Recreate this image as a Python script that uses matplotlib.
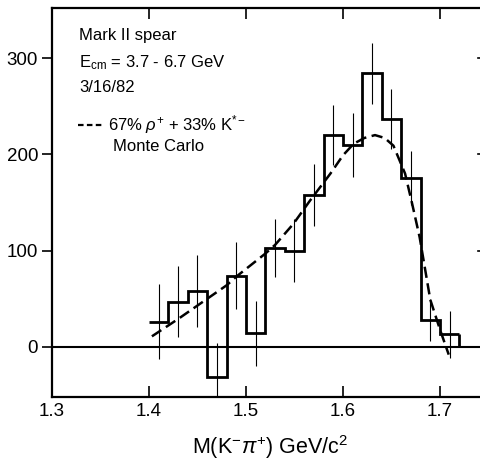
import numpy as np
import matplotlib.pyplot as plt

plt.rcParams['font.family'] = ['Liberation Sans', 'DejaVu Sans']
plt.rcParams['mathtext.fontset'] = 'custom'
plt.rcParams['mathtext.rm'] = 'Liberation Sans'
plt.rcParams['mathtext.it'] = 'Liberation Sans:italic'

# histogram bins (GeV/c^2) and entries
edges = [1.40, 1.42, 1.44, 1.46, 1.48, 1.50, 1.52, 1.54, 1.56,
         1.58, 1.60, 1.62, 1.64, 1.66, 1.68, 1.70, 1.72]
counts = [26, 47, 58, -31, 74, 14, 103, 100, 158,
          220, 210, 284, 237, 175, 28, 13]
errors = [39, 37, 37, 35, 35, 34, 30, 33, 32,
          31, 33, 32, 31, 28, 22, 24]

# Monte Carlo curve
mc_x = [1.403, 1.43, 1.45, 1.46, 1.48, 1.49, 1.52, 1.53, 1.549, 1.566,
        1.587, 1.60, 1.611, 1.622, 1.633, 1.643, 1.652, 1.664, 1.671,
        1.679, 1.69, 1.70, 1.709]
mc_y = [11, 29, 43, 50, 64, 73, 97, 106, 128, 152,
        180, 199, 211, 217, 220, 217, 209, 180, 150,
        114, 49, 18, -8]

xticks = [1.3, 1.4, 1.5, 1.6, 1.7]
yticks = [0, 100, 200, 300]

fig = plt.figure(figsize=(4.81, 4.65), dpi=100)
ax = fig.add_axes([52/481, 68/465, 436.5/481, 389/465])

centers = [(a + b) / 2 for a, b in zip(edges[:-1], edges[1:])]

ax.axhline(0, color='black', lw=1.5)
ax.stairs(counts, edges, baseline=None, color='black', lw=2)
ax.vlines(edges[-1], 0, counts[-1], color='black', lw=2)
ax.errorbar(centers, counts, yerr=errors, fmt='none', ecolor='black',
            elinewidth=0.8, capsize=0)
ax.plot(mc_x, mc_y, color='black', lw=1.8, linestyle=(0, (4.5, 2.2)))

ax.set_xlim(1.3, 1.75)
ax.set_ylim(-52, 352)
ax.set_xticks(xticks)
ax.set_xticklabels([str(t) for t in xticks])
ax.set_yticks(yticks)

ax.tick_params(axis='x', direction='in', top=True, length=8, width=1.2,
               labelsize=13.5, pad=4)
ax.tick_params(axis='y', direction='out', left=True, length=7, width=1.2,
               labelsize=13.5, pad=3)
for s in ax.spines.values():
    s.set_linewidth(1.6)
ax.spines['right'].set_visible(False)
# inward ticks on the right side (right spine falls outside the image)
for t in [100, 200, 300]:
    ax.plot([0.977, 1.0], [t, t], transform=ax.get_yaxis_transform(),
            color='black', lw=1.2, clip_on=False)

ax.set_xlabel(r'M(K$^{-}\pi^{+}$) GeV/c$^{2}$', fontsize=15.5, labelpad=10)

tx = dict(transform=ax.transAxes, fontsize=12, va='baseline', ha='left')
ax.text(0.062, 0.918, 'Mark II spear', **tx)
ax.text(0.062, 0.848, r'E$_{\mathrm{cm}}$ = 3.7 - 6.7 GeV', **tx)
ax.text(0.062, 0.784, '3/16/82', **tx)
ax.plot([0.060, 0.119], [0.699, 0.699], transform=ax.transAxes,
        color='black', lw=1.6, linestyle=(0, (2.5, 1.5)))
ax.text(0.128, 0.686, r'67% $\rho^{+}$ + 33% K$^{*-}$', **tx)
ax.text(0.140, 0.633, 'Monte Carlo', **tx)

fig.savefig('out.png', dpi=100)
